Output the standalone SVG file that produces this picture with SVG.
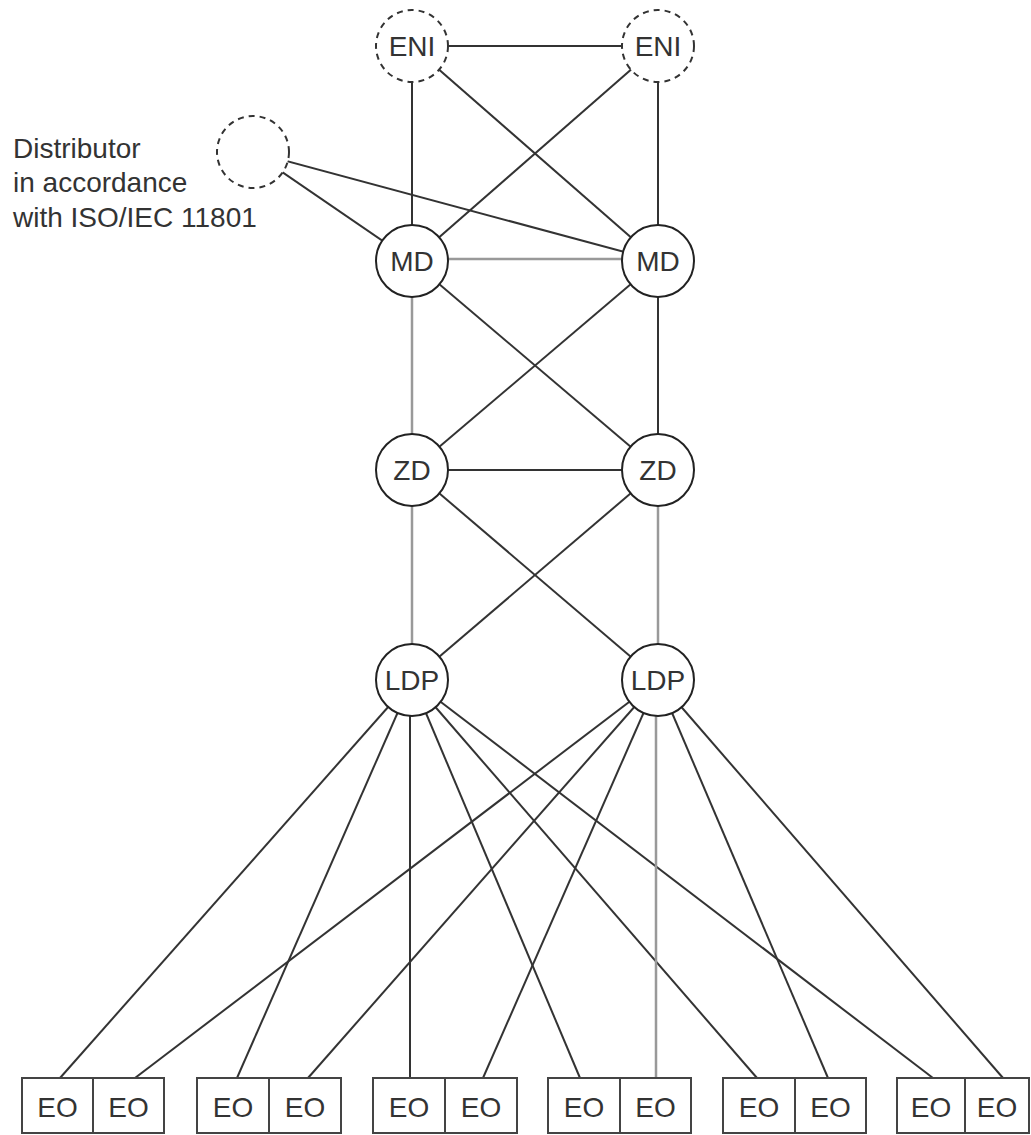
<svg xmlns="http://www.w3.org/2000/svg" width="1031" height="1135" viewBox="0 0 1031 1135">
<style>
.ln{stroke:#333;stroke-width:2;fill:none}
.gl{stroke:#999;stroke-width:2.5;fill:none}
.nd{fill:#fff;stroke:#222;stroke-width:2}
.dn{fill:#fff;stroke:#333;stroke-width:2;stroke-dasharray:6 5}
.bx{fill:#fff;stroke:#444;stroke-width:2}
.lb{font-family:"Liberation Sans",Arial,sans-serif;font-size:28px;fill:#333;text-anchor:middle}
.tx{font-family:"Liberation Sans",Arial,sans-serif;font-size:28px;fill:#333}
</style>
<rect width="1031" height="1135" fill="#fff"/>
<g id="connectors">
<line class="ln" x1="412" y1="46" x2="658" y2="46"/>
<line class="ln" x1="412" y1="46" x2="412" y2="261"/>
<line class="ln" x1="412" y1="46" x2="658" y2="261"/>
<line class="ln" x1="658" y1="46" x2="412" y2="261"/>
<line class="ln" x1="658" y1="46" x2="658" y2="261"/>
<line class="ln" x1="253" y1="152" x2="412" y2="261"/>
<line class="ln" x1="253" y1="152" x2="658" y2="261"/>
<line class="gl" x1="412" y1="259" x2="658" y2="259"/>
<line class="gl" x1="412" y1="261" x2="412" y2="470"/>
<line class="ln" x1="412" y1="261" x2="658" y2="470"/>
<line class="ln" x1="658" y1="261" x2="412" y2="470"/>
<line class="ln" x1="658" y1="261" x2="658" y2="470"/>
<line class="ln" x1="412" y1="470" x2="658" y2="470"/>
<line class="gl" x1="412" y1="470" x2="412" y2="680"/>
<line class="ln" x1="412" y1="470" x2="658" y2="680"/>
<line class="ln" x1="658" y1="470" x2="412" y2="680"/>
<line class="gl" x1="658" y1="470" x2="658" y2="680"/>
<line class="ln" x1="412" y1="680" x2="60" y2="1078"/>
<line class="ln" x1="412" y1="680" x2="237" y2="1078"/>
<line class="ln" x1="410" y1="680" x2="410" y2="1078"/>
<line class="ln" x1="412" y1="680" x2="580" y2="1078"/>
<line class="ln" x1="412" y1="680" x2="757" y2="1078"/>
<line class="ln" x1="412" y1="680" x2="933" y2="1078"/>
<line class="ln" x1="658" y1="680" x2="135" y2="1078"/>
<line class="ln" x1="658" y1="680" x2="308" y2="1078"/>
<line class="ln" x1="658" y1="680" x2="483" y2="1078"/>
<line class="gl" x1="656" y1="680" x2="656" y2="1078"/>
<line class="ln" x1="658" y1="680" x2="828" y2="1078"/>
<line class="ln" x1="658" y1="680" x2="1003" y2="1078"/>
</g>
<g id="eni-left"><circle class="dn" cx="412" cy="46" r="36"/><text class="lb" x="412" y="56">ENI</text></g>
<g id="eni-right"><circle class="dn" cx="658" cy="46" r="36"/><text class="lb" x="658" y="56">ENI</text></g>
<g id="distributor"><circle class="dn" cx="253" cy="152" r="36"/></g>
<g id="distributor-label"><text class="tx" x="13" y="158">Distributor</text><text class="tx" x="13" y="192">in accordance</text><text class="tx" x="13" y="227">with ISO/IEC 11801</text></g>
<g id="md-left"><circle class="nd" cx="412" cy="261" r="36"/><text class="lb" x="412" y="271">MD</text></g>
<g id="md-right"><circle class="nd" cx="658" cy="261" r="36"/><text class="lb" x="658" y="271">MD</text></g>
<g id="zd-left"><circle class="nd" cx="412" cy="470" r="36"/><text class="lb" x="412" y="480">ZD</text></g>
<g id="zd-right"><circle class="nd" cx="658" cy="470" r="36"/><text class="lb" x="658" y="480">ZD</text></g>
<g id="ldp-left"><circle class="nd" cx="412" cy="680" r="36"/><text class="lb" x="412" y="690">LDP</text></g>
<g id="ldp-right"><circle class="nd" cx="658" cy="680" r="36"/><text class="lb" x="658" y="690">LDP</text></g>
<g id="eo-1"><rect class="bx" x="22" y="1078" width="71" height="55"/><text class="lb" x="57.500" y="1117">EO</text></g>
<g id="eo-2"><rect class="bx" x="93" y="1078" width="71" height="55"/><text class="lb" x="128.500" y="1117">EO</text></g>
<g id="eo-3"><rect class="bx" x="197" y="1078" width="72" height="55"/><text class="lb" x="233" y="1117">EO</text></g>
<g id="eo-4"><rect class="bx" x="269" y="1078" width="72" height="55"/><text class="lb" x="305" y="1117">EO</text></g>
<g id="eo-5"><rect class="bx" x="373" y="1078" width="72" height="55"/><text class="lb" x="409" y="1117">EO</text></g>
<g id="eo-6"><rect class="bx" x="445" y="1078" width="72" height="55"/><text class="lb" x="481" y="1117">EO</text></g>
<g id="eo-7"><rect class="bx" x="548" y="1078" width="72" height="55"/><text class="lb" x="584" y="1117">EO</text></g>
<g id="eo-8"><rect class="bx" x="620" y="1078" width="71" height="55"/><text class="lb" x="655.500" y="1117">EO</text></g>
<g id="eo-9"><rect class="bx" x="723" y="1078" width="72" height="55"/><text class="lb" x="759" y="1117">EO</text></g>
<g id="eo-10"><rect class="bx" x="795" y="1078" width="71" height="55"/><text class="lb" x="830.500" y="1117">EO</text></g>
<g id="eo-11"><rect class="bx" x="897" y="1078" width="68" height="55"/><text class="lb" x="931" y="1117">EO</text></g>
<g id="eo-12"><rect class="bx" x="965" y="1078" width="64" height="55"/><text class="lb" x="997" y="1117">EO</text></g>
</svg>
